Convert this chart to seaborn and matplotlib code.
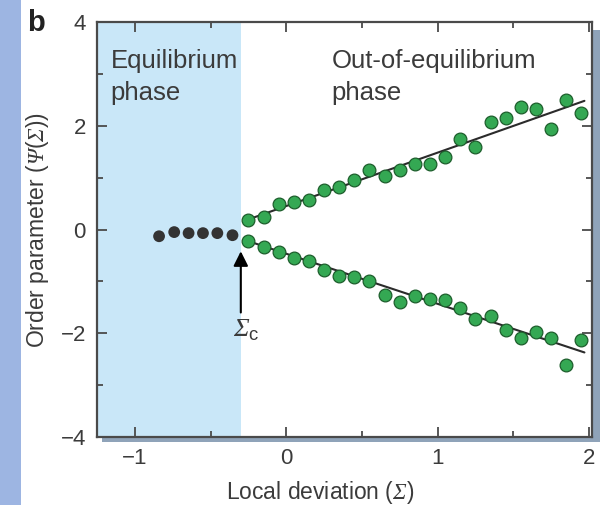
import matplotlib
matplotlib.use("Agg")
import matplotlib.pyplot as plt
from matplotlib.patches import Rectangle
from matplotlib.ticker import MultipleLocator, FixedLocator
import pandas as pd
import seaborn as sns

# ---- data -------------------------------------------------------------
sigma_c = -0.3

eq_x = [-0.84, -0.74, -0.645, -0.55, -0.455, -0.355]
eq_y = [-0.13, -0.05, -0.07, -0.07, -0.07, -0.11]

neq_x = [-0.25, -0.15, -0.05, 0.05, 0.15, 0.25, 0.35, 0.45, 0.55, 0.65,
         0.75, 0.85, 0.95, 1.05, 1.15, 1.25, 1.35, 1.45, 1.55, 1.65,
         1.75, 1.85, 1.95]
upper_y = [0.18, 0.25, 0.50, 0.53, 0.56, 0.77, 0.82, 0.95, 1.15, 1.04,
           1.15, 1.26, 1.26, 1.40, 1.75, 1.59, 2.08, 2.15, 2.37, 2.33,
           1.94, 2.50, 2.24]
lower_y = [-0.23, -0.34, -0.44, -0.55, -0.61, -0.79, -0.89, -0.92, -1.00, -1.26,
           -1.40, -1.29, -1.34, -1.36, -1.51, -1.73, -1.66, -1.94, -2.09, -1.97,
           -2.10, -2.62, -2.13]

fit_x = [-0.245, 1.97]
fit_upper = [0.20, 2.48]
fit_lower = [-0.23, -2.37]

x_ticks = [-1, 0, 1, 2]
y_ticks = [-4, -2, 0, 2, 4]

# ---- style ------------------------------------------------------------
sns.set_theme(style="ticks")
plt.rcParams["font.family"] = ["Liberation Sans", "DejaVu Sans"]
plt.rcParams["mathtext.fontset"] = "custom"
plt.rcParams["mathtext.rm"] = "Liberation Sans"
plt.rcParams["mathtext.it"] = "Liberation Sans:italic"
plt.rcParams["mathtext.bf"] = "Liberation Sans:bold"
# italic serif for the Greek symbols (\mathsf is used as the symbol face)
plt.rcParams["mathtext.sf"] = "Liberation Serif:italic"

text_col = "#3b3b3b"
frame_col = "#4a4a4a"

W, H = 608, 505
fig = plt.figure(figsize=(W / 100, H / 100), dpi=100)
fig.patch.set_facecolor("white")

ax_l, ax_r, ax_t, ax_b = 97, 592, 22, 437
ax = fig.add_axes([ax_l / W, 1 - ax_b / H, (ax_r - ax_l) / W, (ax_b - ax_t) / H])
ax.set_facecolor("white")
ax.set_zorder(2)

# page margin strip and the frame's drop shadow
fig.patches.append(Rectangle((0, 0), 21 / W, 1, transform=fig.transFigure,
                             facecolor="#9db5e2", edgecolor="none", zorder=0))
fig.patches.append(Rectangle(((ax_l + 5) / W, 1 - (ax_b + 5) / H),
                             (ax_r - ax_l + 3) / W, (ax_b - ax_t - 3) / H,
                             transform=fig.transFigure, facecolor="#8fa3b9",
                             edgecolor="none", zorder=1))

xlim = (-1.25, 2.02)
ax.set_xlim(*xlim)
ax.set_ylim(-4, 4)

# equilibrium phase region
ax.axvspan(xlim[0], sigma_c, color="#c9e7f8", lw=0, zorder=0)

# fitted branches
fits = pd.DataFrame({"x": fit_x * 2,
                     "y": fit_upper + fit_lower,
                     "branch": ["upper"] * 2 + ["lower"] * 2})
sns.lineplot(data=fits, x="x", y="y", units="branch", estimator=None,
             color="#2b2b2b", lw=1.5, ax=ax, zorder=3)

# measured order parameter
eq = pd.DataFrame({"x": eq_x, "y": eq_y})
sns.scatterplot(data=eq, x="x", y="y", s=72, color="#333333",
                edgecolor="none", ax=ax, zorder=4)

neq = pd.DataFrame({"x": neq_x * 2, "y": upper_y + lower_y})
sns.scatterplot(data=neq, x="x", y="y", s=84, color="#34a853",
                edgecolor="#1d5e2c", linewidth=0.9, ax=ax, zorder=4)

# critical point marker
ax.annotate("", xy=(sigma_c, -0.42), xytext=(sigma_c, -1.6),
            arrowprops=dict(arrowstyle="-|>", color="black", lw=1.5,
                            mutation_scale=22, shrinkA=0, shrinkB=0),
            zorder=5)
ax.text(sigma_c + 0.035, -1.95, r"$\mathsf{\Sigma}_{\mathrm{c}}$", ha="center",
        va="center", fontsize=19, color=text_col)

ax.text(-1.16, 3.48, "Equilibrium\nphase", ha="left", va="top",
        fontsize=18.5, color=text_col, linespacing=1.42)
ax.text(0.30, 3.48, "Out-of-equilibrium\nphase", ha="left", va="top",
        fontsize=18.5, color=text_col, linespacing=1.42)

# axes, ticks and labels
ax.xaxis.set_major_locator(FixedLocator(x_ticks))
ax.xaxis.set_minor_locator(MultipleLocator(0.5))
ax.yaxis.set_major_locator(FixedLocator(y_ticks))
ax.yaxis.set_minor_locator(MultipleLocator(1))
ax.set_xticklabels([f"{t}".replace("-", "\u2212") for t in x_ticks])
ax.set_yticklabels([f"{t}".replace("-", "\u2212") for t in y_ticks])
ax.tick_params(which="both", direction="in", top=True, right=True,
               color=frame_col, width=1.3, labelcolor=text_col)
ax.tick_params(which="major", length=7, labelsize=16, pad=8)
ax.tick_params(which="minor", length=4.5)
for sp in ax.spines.values():
    sp.set_color(frame_col)
    sp.set_linewidth(1.6)
ax.set_xlabel("")
ax.set_ylabel("")

fig.text(320 / W, 1 - 492 / H, r"Local deviation ($\mathsf{\Sigma}$)",
         fontsize=16.5, color=text_col, ha="center", va="center")
fig.text(38 / W, 1 - 230 / H,
         r"Order parameter ($\mathsf{\Psi}$($\mathsf{\Sigma}$))",
         fontsize=16.5, color=text_col, ha="center", va="center", rotation=90)

fig.text(27 / W, 1 - 23 / H, "b", fontsize=21, fontweight="bold",
         color="#222222", ha="left", va="center")

fig.savefig("out.png", dpi=100)
